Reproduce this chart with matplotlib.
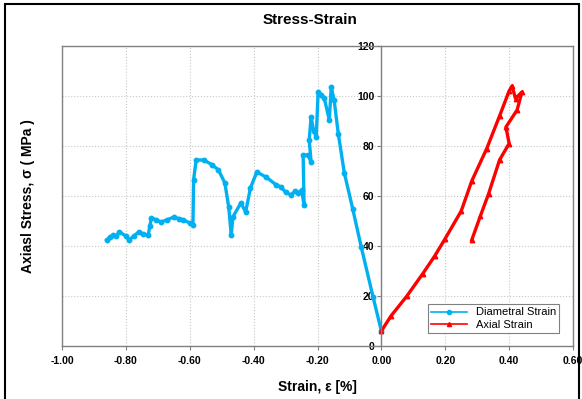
import matplotlib
matplotlib.use("Agg")
import matplotlib.pyplot as plt
from matplotlib.lines import Line2D
from matplotlib.patches import Rectangle

plt.rcParams['font.family'] = ['Liberation Sans', 'DejaVu Sans']

# Diametral strain (%) vs axial stress (MPa)
diam_strain = [-0.86, -0.85, -0.84, -0.83, -0.82, -0.80, -0.79, -0.775, -0.76, -0.745, -0.73, -0.725,
               -0.72, -0.705, -0.69, -0.67, -0.65, -0.635, -0.62, -0.60, -0.59,
               -0.588, -0.58, -0.556, -0.53, -0.51, -0.49, -0.478, -0.47, -0.465, -0.44, -0.425,
               -0.41, -0.39, -0.36, -0.33, -0.314, -0.30, -0.283, -0.27, -0.26, -0.25, -0.242,
               -0.245, -0.23, -0.22, -0.226, -0.22, -0.212, -0.204, -0.198, -0.188, -0.179,
               -0.163, -0.157, -0.148, -0.135, -0.116, -0.09, -0.063, -0.026, 0.0]
diam_stress = [42.4, 43.5, 44.4, 44.0, 45.6, 44.0, 42.4, 44.0, 45.6, 44.8, 44.4, 48.0,
               51.2, 50.5, 49.6, 50.5, 51.6, 51.0, 50.5, 49.2, 48.4,
               66.4, 74.4, 74.4, 72.5, 70.4, 65.2, 55.6, 44.4, 51.6, 57.2, 53.6,
               63.2, 69.6, 67.5, 64.5, 63.6, 61.5, 60.4, 62.0, 61.2, 62.4, 56.4,
               76.4, 76.4, 73.6, 82.4, 91.6, 86.0, 83.6, 101.6, 100.5, 99.2,
               90.4, 103.6, 98.4, 85.0, 69.2, 55.0, 39.6, 19.6, 6.0]

# Axial strain (%) vs axial stress (MPa)
axial_strain = [0.0, 0.03, 0.08, 0.13, 0.167, 0.2, 0.25, 0.283, 0.33, 0.37, 0.40, 0.409,
                0.42, 0.44, 0.425, 0.39, 0.40, 0.37, 0.336, 0.31, 0.283]
axial_stress = [6.0, 12.0, 20.0, 29.0, 36.0, 43.0, 54.0, 66.0, 79.0, 92.0, 102.0, 104.0,
                99.0, 101.6, 94.4, 87.6, 81.0, 74.4, 61.0, 52.0, 42.4]

x_ticks = [-1.0, -0.8, -0.6, -0.4, -0.2, 0.0, 0.2, 0.4, 0.6]
y_ticks = [0, 20, 40, 60, 80, 100, 120]

fig = plt.figure(figsize=(5.82, 3.99), dpi=100)
ax = fig.add_axes([62/582, 53/399, 511/582, 300/399])

blue = '#00B0F0'
red = '#FF0000'
ax.plot(diam_strain, diam_stress, color=blue, lw=2.4, marker='o', ms=3.2,
        label='Diametral Strain', solid_joinstyle='round')
ax.plot(axial_strain, axial_stress, color=red, lw=2.4, marker='^', ms=3.2,
        label='Axial Strain', solid_joinstyle='round')

ax.set_xlim(-1.0, 0.6)
ax.set_ylim(0, 120)
ax.set_xticks(x_ticks)
ax.set_xticklabels([f"{v:.2f}" for v in x_ticks])
ax.set_yticks(y_ticks)
ax.set_yticklabels([str(v) for v in y_ticks])
ax.grid(True, color='#c8c8c8', linestyle=':', linewidth=0.8)
ax.set_axisbelow(True)

for s in ['top', 'right', 'bottom']:
    ax.spines[s].set_color('#808080')
    ax.spines[s].set_linewidth(1.0)
ax.spines['left'].set_position(('data', 0))
ax.spines['left'].set_color('#808080')
ax.spines['left'].set_linewidth(1.0)
ax.add_line(Line2D([0, 0], [0, 1], transform=ax.transAxes, color='#808080', lw=1.0, clip_on=False))

ax.tick_params(axis='both', labelsize=7.5, colors='black', length=3, color='#808080', pad=2)
for lbl in ax.get_xticklabels() + ax.get_yticklabels():
    lbl.set_fontweight('bold')
ax.tick_params(axis='x', pad=4)

ax.set_xlabel('Strain, ε [%]', fontsize=10, fontweight='bold', labelpad=10)
fig.text(28/582, 1 - 196/399, 'Axiasl Stress, σ ( MPa )', rotation=90, fontsize=10,
         fontweight='bold', ha='center', va='center')
fig.text(310/582, 1 - 20/399, 'Stress-Strain', fontsize=11, fontweight='bold',
         ha='center', va='center')

leg = ax.legend(loc='lower left', bbox_to_anchor=((428 - 62) / 511, (346 - 333) / 300),
                fontsize=8, frameon=True, fancybox=False, edgecolor='#808080', borderpad=0.3,
                handlelength=3.2, labelspacing=0.2, borderaxespad=0, framealpha=1)
leg.get_frame().set_linewidth(0.8)
for h in leg.legend_handles:
    h.set_linewidth(1.2)
    h.set_markersize(3)

fig.patches.append(Rectangle((5/582, -0.05), 574/582, 1.05 - 4/399, transform=fig.transFigure,
                             fill=False, edgecolor='black', lw=1.5))

fig.savefig('out.png', dpi=100)
